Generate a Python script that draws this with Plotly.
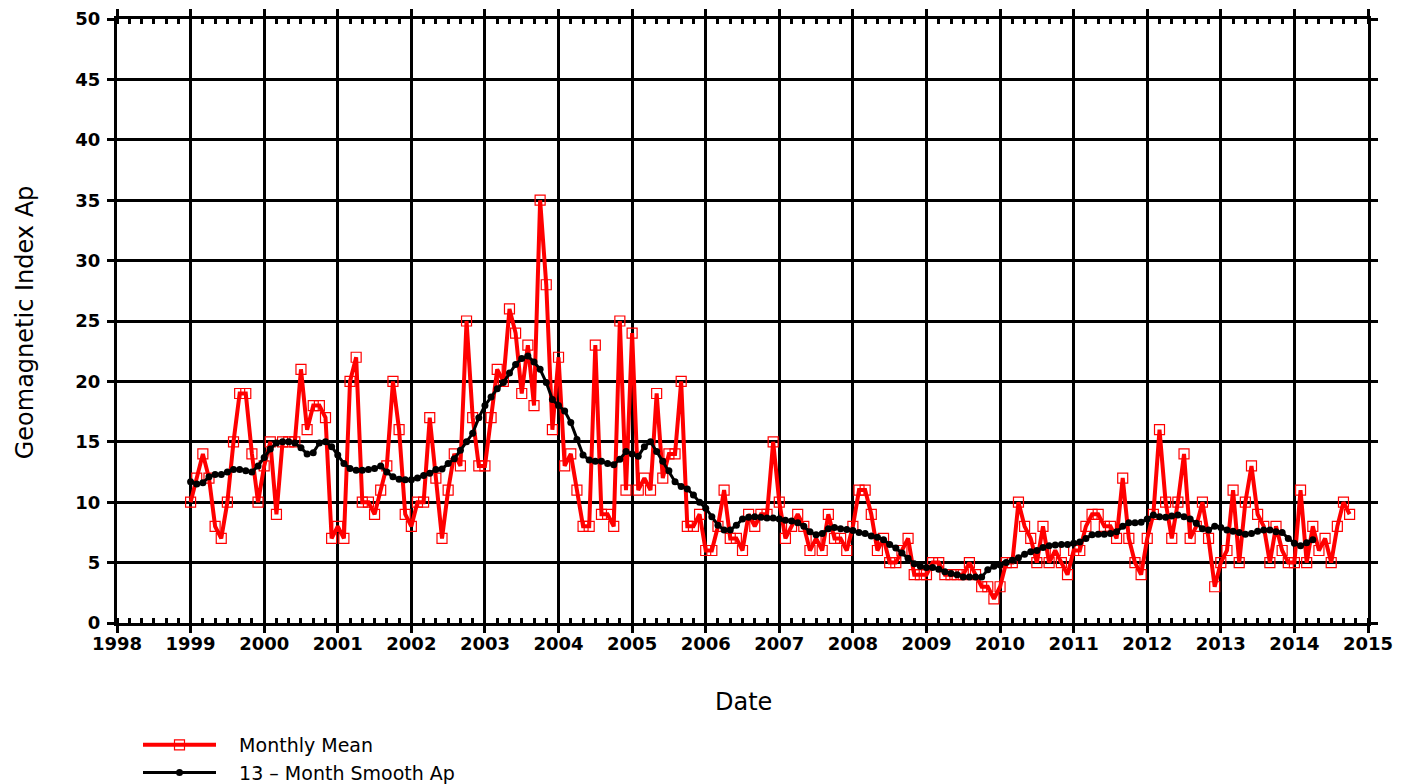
import plotly.graph_objects as go

# Monthly mean Ap, Jan 1999 .. Oct 2014
ap_1999 = [10, 12, 14, 12, 8, 7, 10, 15, 19, 19, 14, 10]
ap_2000 = [13, 15, 9, 15, 15, 15, 21, 16, 18, 18, 17, 7]
ap_2001 = [8, 7, 20, 22, 10, 10, 9, 11, 13, 20, 16, 9]
ap_2002 = [8, 10, 10, 17, 12, 7, 11, 14, 13, 25, 17, 13]
ap_2003 = [13, 17, 21, 20, 26, 24, 19, 23, 18, 35, 28, 16]
ap_2004 = [22, 13, 14, 11, 8, 8, 23, 9, 9, 8, 25, 11]
ap_2005 = [24, 11, 12, 11, 19, 12, 14, 14, 20, 8, 8, 9]
ap_2006 = [6, 6, 8, 11, 7, 7, 6, 9, 8, 9, 9, 15]
ap_2007 = [10, 7, 8, 9, 8, 6, 7, 6, 9, 7, 7, 6]
ap_2008 = [8, 11, 11, 9, 6, 7, 5, 5, 6, 7, 4, 4]
ap_2009 = [4, 5, 5, 4, 4, 4, 4, 5, 4, 3, 3, 2]
ap_2010 = [3, 5, 5, 10, 8, 7, 5, 8, 5, 6, 5, 4]
ap_2011 = [6, 6, 8, 9, 9, 8, 8, 7, 12, 7, 5, 4]
ap_2012 = [7, 9, 16, 10, 7, 10, 14, 7, 8, 10, 7, 3]
ap_2013 = [5, 6, 11, 5, 10, 13, 9, 8, 5, 8, 6, 5]
ap_2014 = [5, 11, 5, 8, 6, 7, 5, 8, 10, 9]

# 13-month smoothed Ap, Jan 1999 .. Apr 2014
sm_1999 = [11.7, 11.5, 11.6, 12.1, 12.3, 12.3, 12.5, 12.7, 12.7, 12.6, 12.5, 13.0]
sm_2000 = [13.7, 14.4, 14.9, 15.0, 15.0, 14.9, 14.5, 14.0, 14.1, 14.9, 15.0, 14.6]
sm_2001 = [13.9, 13.2, 12.8, 12.65, 12.65, 12.7, 12.8, 13.0, 12.5, 12.1, 11.9, 11.85]
sm_2002 = [11.85, 12.0, 12.2, 12.4, 12.7, 12.75, 13.2, 13.6, 14.3, 15.0, 15.7, 17.0]
sm_2003 = [18.0, 18.7, 19.4, 19.9, 20.7, 21.4, 21.9, 22.1, 21.6, 21.0, 19.9, 18.5]
sm_2004 = [18.0, 17.55, 16.6, 15.2, 13.9, 13.5, 13.4, 13.4, 13.2, 13.1, 13.55, 14.2]
sm_2005 = [14.0, 13.8, 14.6, 15.0, 14.2, 13.4, 12.6, 11.7, 11.3, 11.1, 10.6, 10.0]
sm_2006 = [9.5, 8.8, 8.1, 7.7, 7.7, 8.1, 8.6, 8.75, 8.8, 8.75, 8.7, 8.7]
sm_2007 = [8.6, 8.5, 8.45, 8.3, 8.0, 7.55, 7.3, 7.4, 7.8, 7.9, 7.8, 7.75]
sm_2008 = [7.65, 7.5, 7.4, 7.2, 7.1, 6.9, 6.5, 6.2, 5.8, 5.35, 4.9, 4.7]
sm_2009 = [4.6, 4.6, 4.45, 4.25, 4.1, 4.0, 3.8, 3.8, 3.8, 3.8, 4.4, 4.7]
sm_2010 = [4.8, 5.0, 5.2, 5.4, 5.7, 5.9, 6.0, 6.25, 6.4, 6.45, 6.5, 6.5]
sm_2011 = [6.6, 6.7, 7.0, 7.3, 7.35, 7.35, 7.4, 7.55, 8.0, 8.3, 8.3, 8.35]
sm_2012 = [8.6, 8.95, 8.8, 8.75, 8.85, 8.95, 8.8, 8.6, 8.25, 7.8, 7.7, 8.0]
sm_2013 = [7.9, 7.7, 7.6, 7.5, 7.35, 7.4, 7.6, 7.7, 7.7, 7.55, 7.5, 7.0]
sm_2014 = [6.6, 6.4, 6.65, 6.9]

monthly = (ap_1999 + ap_2000 + ap_2001 + ap_2002 + ap_2003 + ap_2004 + ap_2005 + ap_2006
           + ap_2007 + ap_2008 + ap_2009 + ap_2010 + ap_2011 + ap_2012 + ap_2013 + ap_2014)
smooth = (sm_1999 + sm_2000 + sm_2001 + sm_2002 + sm_2003 + sm_2004 + sm_2005 + sm_2006
          + sm_2007 + sm_2008 + sm_2009 + sm_2010 + sm_2011 + sm_2012 + sm_2013 + sm_2014)

start_year = 1999
x_monthly = [start_year + i / 12 for i in range(len(monthly))]
x_smooth = [start_year + i / 12 for i in range(len(smooth))]

year_ticks = list(range(1998, 2016))
ap_ticks = list(range(0, 51, 5))

FONT = "DejaVu Sans"

fig = go.Figure()
fig.add_trace(go.Scatter(
    x=x_monthly, y=monthly, mode="lines+markers", name="   Monthly Mean",
    line=dict(color="#ff0000", width=4),
    marker=dict(symbol="square-open", size=10, color="#ff0000", line=dict(width=1.2)),
))
fig.add_trace(go.Scatter(
    x=x_smooth, y=smooth, mode="lines+markers", name="   13 \u2013 Month Smooth Ap",
    line=dict(color="black", width=3),
    marker=dict(symbol="circle", size=7, color="black"),
))

axis_common = dict(
    showline=True, linecolor="black", linewidth=3, mirror="allticks",
    showgrid=True, gridcolor="black", gridwidth=2.5,
    zeroline=False, ticks="outside", ticklen=7, tickwidth=3, tickcolor="black",
    tickfont=dict(family=FONT, size=18, color="black", weight="bold"),
    automargin=False,
)

fig.update_xaxes(
    range=[1998, 2015], tickvals=year_ticks, ticktext=[str(y) for y in year_ticks],
    ticklabelstandoff=-5,
    minor=dict(dtick=1 / 6, tick0=1998, ticks="inside", ticklen=5, tickwidth=2.5,
               tickcolor="black", showgrid=False),
    **axis_common,
)
fig.update_yaxes(
    range=[0, 50], tickvals=ap_ticks, ticktext=[str(v) for v in ap_ticks],
    ticklabelstandoff=3,
    **axis_common,
)

fig.add_annotation(
    text="Geomagnetic Index Ap", textangle=-90, showarrow=False,
    xref="paper", yref="paper", x=-0.0735, y=0.498, xanchor="center", yanchor="middle",
    font=dict(family=FONT, size=24, color="black"),
)
fig.add_annotation(
    text="Date", showarrow=False,
    xref="paper", yref="paper", x=0.5004, y=-0.1308, xanchor="center", yanchor="middle",
    font=dict(family=FONT, size=24, color="black"),
)

fig.update_layout(
    width=1410, height=776,
    margin=dict(l=109, r=50, t=11, b=161, autoexpand=False),
    paper_bgcolor="white", plot_bgcolor="white",
    showlegend=True,
    legend=dict(
        xref="container", yref="container", x=130 / 1410, y=1 - 718 / 776,
        xanchor="left", yanchor="top",
        font=dict(family=FONT, size=19, color="black"),
        itemwidth=73, tracegroupgap=0, bgcolor="rgba(0,0,0,0)",
    ),
)

fig.write_html("out.html")
